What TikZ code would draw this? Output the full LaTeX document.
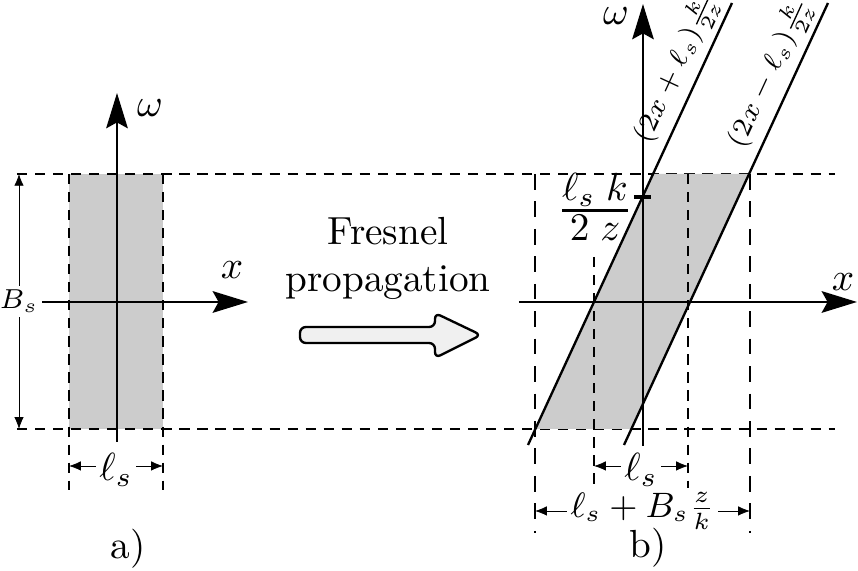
\documentclass[tikz,border=0pt]{standalone}
\usepackage{amsmath}
\usetikzlibrary{arrows.meta}
\begin{document}
\begin{tikzpicture}[x=0.255pt, y=-0.255pt,
    axis/.style={semithick, -{Stealth[length=9pt,width=5.5pt,inset=1.5pt]}},
    edge/.style={semithick},
    guide/.style={thin, dash pattern=on 2.6pt off 2pt},
    longguide/.style={semithick, dash pattern=on 4pt off 3pt},
    dim/.style={very thin, {Latex[length=3pt,width=2.4pt]}-{Latex[length=3pt,width=2.4pt]}},
    dimlabel/.style={fill=white, inner sep=1pt, yshift=-1pt},
    band/.style={fill=gray!40}]
    \useasboundingbox (0,0) rectangle (858,571);

    % a) source band
    \fill[band] (69,174) rectangle (163,429);
    \draw[guide] (17,174) -- (835,174) (17,429) -- (835,429);
    \draw[guide] (69,174) -- (69,490) (163,174) -- (163,490);
    \draw[axis] (117,442) -- (117,93);
    \draw[axis] (42,302) -- (248,302);
    \node (wa) at (150,108) {$\omega$};
    \node (xa) at (232,270) {$x$};
    \draw[dim] (19,174) -- node[dimlabel, yshift=1pt] (Bs) {\scriptsize$B_s$} (19,429);
    \draw[dim] (69,466) -- node[dimlabel] (la) {$\ell_s$} (163,466);
    \node (capa) at (128,549) {a)};

    % propagation arrow
    \node[align=center] (fresnel) at (388,258) {Fresnel\\propagation};
    \draw[rounded corners=1.5pt, fill=gray!12, semithick]
        (300,327) -- (435,327) -- (435,313) -- (481,335) -- (435,358)
        -- (435,343) -- (300,343) -- cycle;

    % b) sheared band
    \fill[band] (535,429) -- (632,429) -- (750,174) -- (653,174) -- cycle;
    \draw[longguide] (535,174) -- (535,533) (750,174) -- (750,533);
    \draw[guide] (594,257) -- (594,488) (688,174) -- (688,488);
    \draw[edge] (528,445) -- node[pos=0.83, sloped, above, inner sep=1.5pt] (lp)
        {\scriptsize$(2x+\ell_s)\frac{k}{2z}$} (732,3);
    \draw[edge] (624,445) -- node[pos=0.82, sloped, above, inner sep=1.5pt] (lm)
        {\scriptsize$(2x-\ell_s)\frac{k}{2z}$} (828,3);
    \draw[axis] (643,446) -- (643,4);
    \draw[axis] (519,302) -- (857,302);
    \draw[line width=1pt] (634,197) -- (651,197);
    \node (wb) at (616,16) {$\omega$};
    \node (xb) at (843,282) {$x$};
    \node (cut) at (595,207) {$\genfrac{}{}{0.8pt}{}{\textstyle\ell_s\;k}{\textstyle 2\;z}$};
    \draw[dim] (594,466) -- node[dimlabel] (lb) {$\ell_s$} (688,466);
    \draw[dim] (535,511) -- node[dimlabel, yshift=1pt] (wide) {\small$\ell_s + B_s\frac{z}{k}$} (750,511);
    \node (capb) at (648,548) {b)};
\end{tikzpicture}
\end{document}
